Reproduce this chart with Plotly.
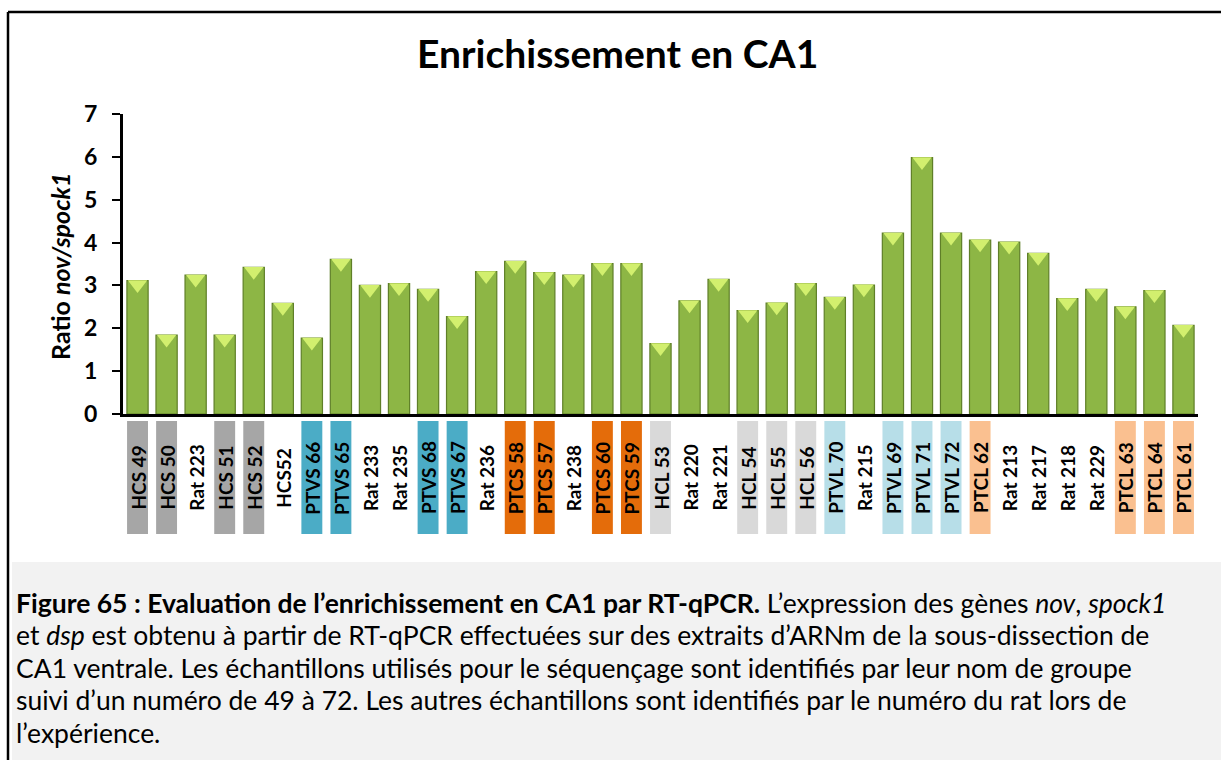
import plotly.graph_objects as go

# Samples (x categories) and measured nov/spock1 ratios
samples = ["HCS 49", "HCS 50", "Rat 223", "HCS 51", "HCS 52", "HCS52", "PTVS 66", "PTVS 65",
           "Rat 233", "Rat 235", "PTVS 68", "PTVS 67", "Rat 236", "PTCS 58", "PTCS 57", "Rat 238",
           "PTCS 60", "PTCS 59", "HCL 53", "Rat 220", "Rat 221", "HCL 54", "HCL 55", "HCL 56",
           "PTVL 70", "Rat 215", "PTVL 69", "PTVL 71", "PTVL 72", "PTCL 62", "Rat 213", "Rat 217",
           "Rat 218", "Rat 229", "PTCL 63", "PTCL 64", "PTCL 61"]
ratios = [3.11, 1.84, 3.24, 1.84, 3.42, 2.58, 1.77, 3.61, 3.00, 3.04, 2.91, 2.27, 3.32, 3.56,
          3.30, 3.24, 3.51, 3.51, 1.64, 2.64, 3.14, 2.41, 2.59, 3.04, 2.72, 3.01, 4.22, 5.98,
          4.22, 4.06, 4.01, 3.75, 2.69, 2.91, 2.50, 2.88, 2.07]
# Sequencing group of each sample ("" = rat numbered sample, no highlight)
groups = ["HCS", "HCS", "", "HCS", "HCS", "", "PTVS", "PTVS", "", "", "PTVS", "PTVS", "",
          "PTCS", "PTCS", "", "PTCS", "PTCS", "HCL", "", "", "HCL", "HCL", "HCL", "PTVL", "",
          "PTVL", "PTVL", "PTVL", "PTCL", "", "", "", "", "PTCL", "PTCL", "PTCL"]
group_colors = {"HCS": "#a6a6a6", "PTVS": "#4bacc6", "PTCS": "#e46c0a",
                "HCL": "#d9d9d9", "PTVL": "#b7dee8", "PTCL": "#fac090"}
y_ticks = [0, 1, 2, 3, 4, 5, 6, 7]

title_text = "Enrichissement en CA1"
y_title = "<b>Ratio <i>nov/spock1</i></b>"
caption_lines = [
    "<b>Figure 65 : Evaluation de l’enrichissement en CA1 par RT-qPCR.</b> L’expression des gènes <i>nov</i>, <i>spock1</i>",
    "et <i>dsp</i> est obtenu à partir de RT-qPCR effectuées sur des extraits d’ARNm de la sous-dissection de",
    "CA1 ventrale. Les échantillons utilisés pour le séquençage sont identifiés par leur nom de groupe",
    "suivi d’un numéro de 49 à 72. Les autres échantillons sont identifiés par le numéro du rat lors de",
    "l’expérience.",
]

FONT = "Lato"
FIG_W, FIG_H = 1221, 760
L, R, T, B = 123, 1198, 114, 414
PW, PH = R - L, B - T


def px(x):
    return (x - L) / PW


def py(y):
    return (B - y) / PH


fig = go.Figure()

fig.add_trace(go.Bar(
    x=samples, y=ratios,
    marker=dict(color="#8db645", line=dict(color="#5f7f28", width=1.2)),
    hoverinfo="x+y",
))
# light bevel on the top of each bar
fig.add_trace(go.Scatter(
    x=samples, y=[v - 0.09 for v in ratios], mode="markers",
    marker=dict(symbol="triangle-down", size=17, color="#d2ef6e",
                line=dict(width=0)),
    hoverinfo="skip",
))

shapes = []
annotations = []

# frame and caption panel
shapes.append(dict(type="rect", xref="paper", yref="paper", x0=px(12), x1=px(FIG_W + 5),
                   y0=py(562), y1=py(FIG_H + 5), fillcolor="#f2f2f2", line=dict(width=0),
                   layer="below"))
shapes.append(dict(type="line", xref="paper", yref="paper", x0=px(8), x1=px(FIG_W + 5),
                   y0=py(12), y1=py(12), line=dict(color="black", width=2.5)))
shapes.append(dict(type="line", xref="paper", yref="paper", x0=px(8), x1=px(8),
                   y0=py(12), y1=py(FIG_H + 5), line=dict(color="black", width=2.5)))

# category labels with group-coloured backgrounds
for i, (name, g) in enumerate(zip(samples, groups)):
    if g:
        shapes.append(dict(type="rect", xref="x", yref="paper", x0=i - 0.36, x1=i + 0.36,
                           y0=py(534), y1=py(421), fillcolor=group_colors[g],
                           line=dict(width=0), layer="below"))
    annotations.append(dict(x=i, y=py(478), xref="x", yref="paper", text="<b>" + name + "</b>",
                            textangle=-90, showarrow=False, xanchor="center", yanchor="middle",
                            font=dict(family=FONT, size=19, color="black")))

# title
annotations.append(dict(x=px(617), y=py(53), xref="paper", yref="paper", text="<b>" + title_text + "</b>",
                        showarrow=False, xanchor="center", yanchor="middle",
                        font=dict(family=FONT, size=39, color="black")))
# y axis title
annotations.append(dict(x=px(60), y=py(266), xref="paper", yref="paper", text=y_title,
                        textangle=-90, showarrow=False, xanchor="center", yanchor="middle",
                        font=dict(family=FONT, size=25, color="black")))
# caption
for k, line in enumerate(caption_lines):
    annotations.append(dict(x=px(14), y=py(603 + 32.4 * k), xref="paper", yref="paper", text=line,
                            showarrow=False, xanchor="left", yanchor="middle", align="left",
                            font=dict(family=FONT, size=26.5, color="black")))

fig.update_layout(
    width=FIG_W, height=FIG_H,
    margin=dict(l=L, r=FIG_W - R, t=T, b=FIG_H - B),
    paper_bgcolor="white", plot_bgcolor="white",
    showlegend=False, bargap=0.27,
    shapes=shapes, annotations=annotations,
    font=dict(family=FONT, color="black"),
)
fig.update_xaxes(showticklabels=False, ticks="", showline=True, linecolor="black", linewidth=3,
                 showgrid=False, zeroline=False, range=[-0.5, len(samples) - 0.5])
fig.update_yaxes(range=[0, 7], tickvals=y_ticks, ticks="outside", ticklen=8, tickwidth=2,
                 tickcolor="black", showline=True, linecolor="black", linewidth=3,
                 showgrid=False, zeroline=False, ticklabelstandoff=10,
                 tickfont=dict(family=FONT, size=23, color="black", weight="bold"))

fig.write_html("out.html")
